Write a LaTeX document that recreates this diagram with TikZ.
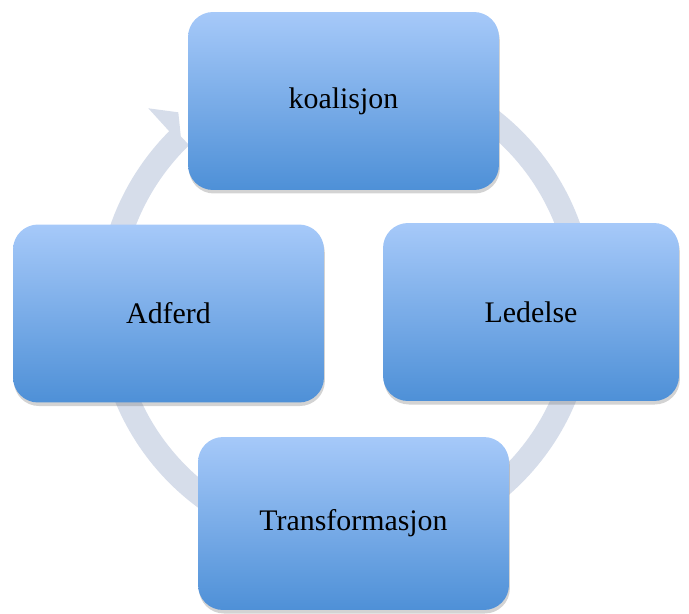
\documentclass[tikz,border=0pt]{standalone}
\usepackage{fontspec}
\setmainfont{Liberation Serif}
\usetikzlibrary{shadows}
\definecolor{boxtop}{RGB}{166,201,249}
\definecolor{boxbot}{RGB}{78,144,215}
\definecolor{ringcol}{RGB}{214,221,234}
\tikzset{
  stage/.style={rounded corners=0.5cm, top color=boxtop, bottom color=boxbot,
    minimum width=6.22cm, minimum height=3.56cm, inner sep=0pt,
    font=\fontsize{17}{20}\selectfont,
    drop shadow={shadow xshift=0.5pt, shadow yshift=-2pt, opacity=0.35}},
  ring/.style={ringcol, line width=0.48cm}
}
\begin{document}
\begin{tikzpicture}[x=0.02cm, y=0.02cm]
        \useasboundingbox (0,0) rectangle (689,613);
        % circular arrow behind the boxes
        \coordinate (hub) at (345.5,306);
        \draw[ring] (hub) ++(90:237) arc[start angle=90, end angle=-226, radius=237];
        \coordinate (barbout) at (148.3,504.7);
        \coordinate (tip) at (178.3,500.7);
        \coordinate (barbin) at (181.7,468);
        \fill[ringcol] (barbout) -- (tip) -- (barbin) -- cycle;

        \node[stage] (koalisjon) at (343.5,512) {koalisjon};
        \node[stage] (adferd) at (168.5,299.5) {Adferd};
        \node[stage, minimum width=5.92cm] (ledelse) at (531,301) {Ledelse};
        \node[stage, minimum height=3.46cm] (transf) at (353.5,89.5) {Transformasjon};
    \end{tikzpicture}
\end{document}
